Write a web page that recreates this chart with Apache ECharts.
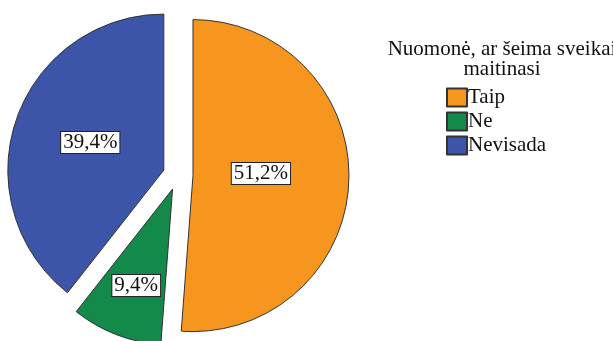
<!DOCTYPE html>
<html>
<head>
<meta charset="utf-8">
<script src="https://cdn.jsdelivr.net/npm/echarts@6/dist/echarts.min.js"></script>
<style>
  html, body { margin: 0; padding: 0; background: #fff; }
  #chart { width: 613px; height: 341px; }
</style>
</head>
<body>
<div id="chart"></div>
<script>
// Answers to "Nuomonė, ar šeima sveikai maitinasi" (percent of respondents)
const categories = ['Taip', 'Ne', 'Nevisada'];
const percents = [51.2, 9.4, 39.4];
const colors = ['#F7961E', '#138A4A', '#3D55A9'];
const legendTitle = 'Nuomonė, ar šeima sveikai\nmaitinasi';

const serif = '"Liberation Serif", "Times New Roman", serif';

// Nudge for labels that sit off the default inner position
const labelNudge = [[-13, -5], [-7, 21], [3, -1]];

const chart = echarts.init(document.getElementById('chart'));
chart.setOption({
  animation: false,
  title: {
    text: legendTitle,
    left: 497,
    top: 34,
    textAlign: 'center',
    textStyle: {
      fontFamily: serif,
      fontSize: 21,
      fontWeight: 'normal',
      color: '#111',
      lineHeight: 20
    }
  },
  legend: {
    orient: 'vertical',
    left: 441,
    top: 82,
    itemWidth: 20,
    itemHeight: 18,
    itemGap: 3,
    selectedMode: false,
    icon: 'rect',
    data: categories,
    textStyle: {
      fontFamily: serif,
      fontSize: 21,
      color: '#111',
      lineHeight: 21,
      padding: [0, 0, 0, -4]
    }
  },
  series: [{
    type: 'pie',
    center: [178, 175],
    radius: 156,
    startAngle: 90,
    clockwise: true,
    selectedMode: 'multiple',
    selectedOffset: 15,
    emphasis: { disabled: true },
    itemStyle: { borderColor: '#333', borderWidth: 1 },
    label: {
      show: true,
      position: 'inside',
      formatter: p => p.value.toFixed(1).replace('.', ',') + '%',
      fontFamily: serif,
      fontSize: 21,
      color: '#111',
      backgroundColor: '#fff',
      borderColor: '#222',
      borderWidth: 1,
      lineHeight: 20,
      padding: [1, 2, 0, 2]
    },
    labelLayout: p => ({ dx: labelNudge[p.dataIndex][0], dy: labelNudge[p.dataIndex][1] }),
    data: categories.map((name, i) => ({
      name: name,
      value: percents[i],
      selected: true,
      itemStyle: { color: colors[i] }
    }))
  }]
});
</script>
</body>
</html>
